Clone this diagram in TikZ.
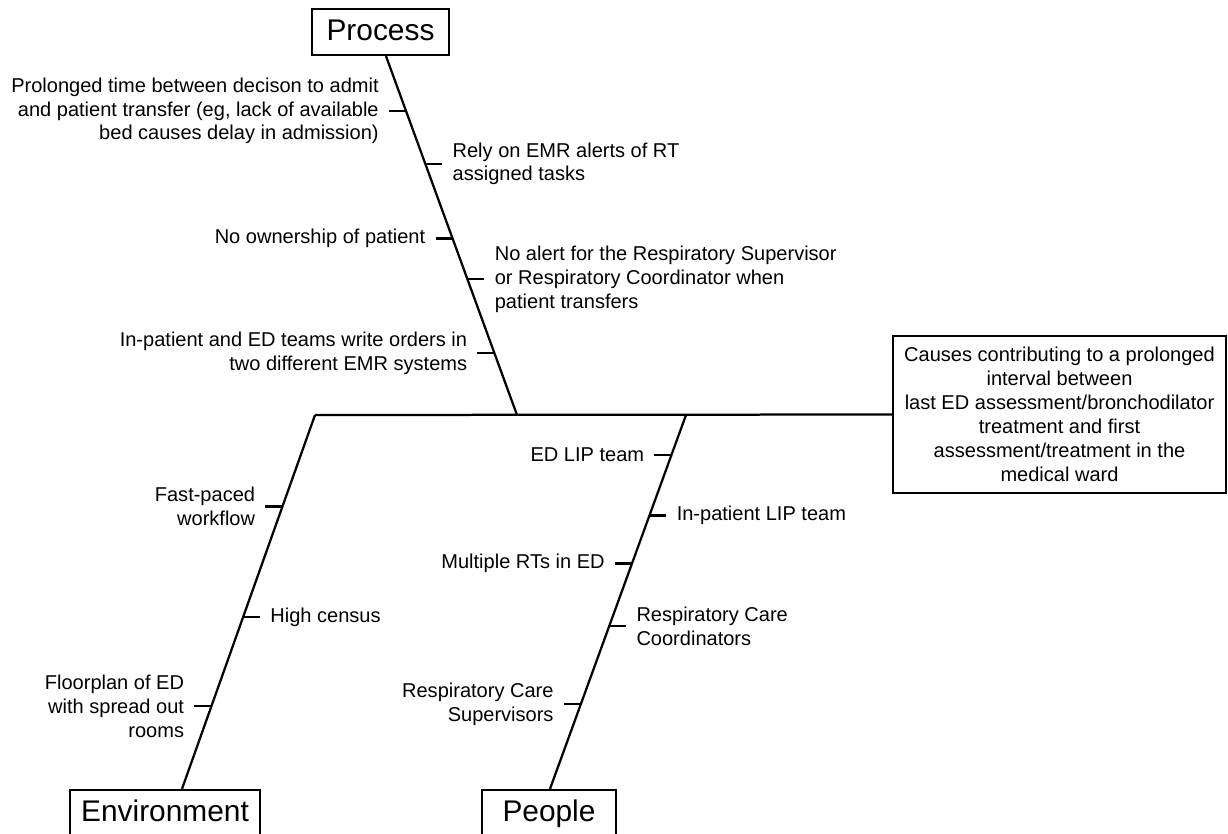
\documentclass[tikz,border=0pt]{standalone}
\usepackage{fontspec}
\setmainfont{Liberation Sans}
\usetikzlibrary{positioning,calc}
\tikzset{
  bone/.style={line width=0.045cm, black},
  hdr/.style={draw, line width=0.045cm, inner xsep=0pt, inner ysep=0.18cm,
              text height=0.44cm, text depth=0.12cm,
              font=\fontsize{17}{20}\selectfont},
  lcause/.style={anchor=east, align=right, inner xsep=0.2cm, inner ysep=0pt,
                 font=\fontsize{11.4}{13.5}\selectfont},
  rcause/.style={anchor=west, align=left, inner xsep=0.2cm, inner ysep=0pt,
                 font=\fontsize{11.4}{13.5}\selectfont},
  effbox/.style={draw, line width=0.045cm, minimum width=6.66cm, minimum height=3.14cm,
                 align=center, font=\fontsize{11.4}{13.7}\selectfont},
}

\begin{document}
\begin{tikzpicture}[x=0.02cm, y=-0.02cm]
    \useasboundingbox (0,0) rectangle (1228,833);
    % heads and effect
    \node[hdr, minimum width=2.74cm] (proc) at (380.5,32) {Process};
    \node[hdr, minimum width=3.8cm] (env) at (165,813) {Environment};
    \node[hdr, minimum width=2.68cm] (ppl) at (549,813) {People};
    \node[effbox] (eff) at (1059.5,414.5) {Causes contributing to a prolonged\\interval between\\last ED assessment/bronchodilator\\treatment and first\\assessment/treatment in the\\medical ward};
    \coordinate (je) at (315,415);
    \coordinate (jp) at (517,415);
    \coordinate (jq) at (686,415);
    \draw[bone] (je) -- (eff.west);
    % spines
    \draw[bone] ([xshift=0.11cm]proc.south) -- (jp)
      coordinate[pos=0.153] (p1) coordinate[pos=0.300] (p2) coordinate[pos=0.508] (p3)
      coordinate[pos=0.622] (p4) coordinate[pos=0.828] (p5);
    \draw[bone] (je) -- ([xshift=0.34cm]env.north)
      coordinate[pos=0.245] (e1) coordinate[pos=0.541] (e2) coordinate[pos=0.779] (e3);
    \draw[bone] (jq) -- ([xshift=0.02cm]ppl.north)
      coordinate[pos=0.107] (q1) coordinate[pos=0.269] (q2) coordinate[pos=0.397] (q3)
      coordinate[pos=0.565] (q4) coordinate[pos=0.773] (q5);
    % process causes
    \draw[bone] (p1) -- ++(-17,0) coordinate (tp1);
    \node[lcause] (cp1) at (tp1) {Prolonged time between decison to admit\\and patient transfer (eg, lack of available\\bed causes delay in admission)};
    \draw[bone] (p2) -- ++(17,0) coordinate (tp2);
    \node[rcause] (cp2) at (tp2) {Rely on EMR alerts of RT\\assigned tasks};
    \draw[bone] (p3) -- ++(-17,0) coordinate (tp3);
    \node[lcause] (cp3) at (tp3) {No ownership of patient};
    \draw[bone] (p4) -- ++(17,0) coordinate (tp4);
    \node[rcause] (cp4) at (tp4) {No alert for the Respiratory Supervisor\\or Respiratory Coordinator when\\patient transfers};
    \draw[bone] (p5) -- ++(-17,0) coordinate (tp5);
    \node[lcause] (cp5) at (tp5) {In-patient and ED teams write orders in\\two different EMR systems};
    % environment causes
    \draw[bone] (e1) -- ++(-17,0) coordinate (te1);
    \node[lcause] (ce1) at (te1) {Fast-paced\\workflow};
    \draw[bone] (e2) -- ++(17,0) coordinate (te2);
    \node[rcause] (ce2) at (te2) {High census};
    \draw[bone] (e3) -- ++(-17,0) coordinate (te3);
    \node[lcause] (ce3) at (te3) {Floorplan of ED\\with spread out\\rooms};
    % people causes
    \draw[bone] (q1) -- ++(-17,0) coordinate (tq1);
    \node[lcause] (cq1) at (tq1) {ED LIP team};
    \draw[bone] (q2) -- ++(17,0) coordinate (tq2);
    \node[rcause] (cq2) at (tq2) {In-patient LIP team};
    \draw[bone] (q3) -- ++(-17,0) coordinate (tq3);
    \node[lcause] (cq3) at (tq3) {Multiple RTs in ED};
    \draw[bone] (q4) -- ++(17,0) coordinate (tq4);
    \node[rcause] (cq4) at (tq4) {Respiratory Care\\Coordinators};
    \draw[bone] (q5) -- ++(-17,0) coordinate (tq5);
    \node[lcause] (cq5) at (tq5) {Respiratory Care\\Supervisors};
  \end{tikzpicture}
\end{document}
